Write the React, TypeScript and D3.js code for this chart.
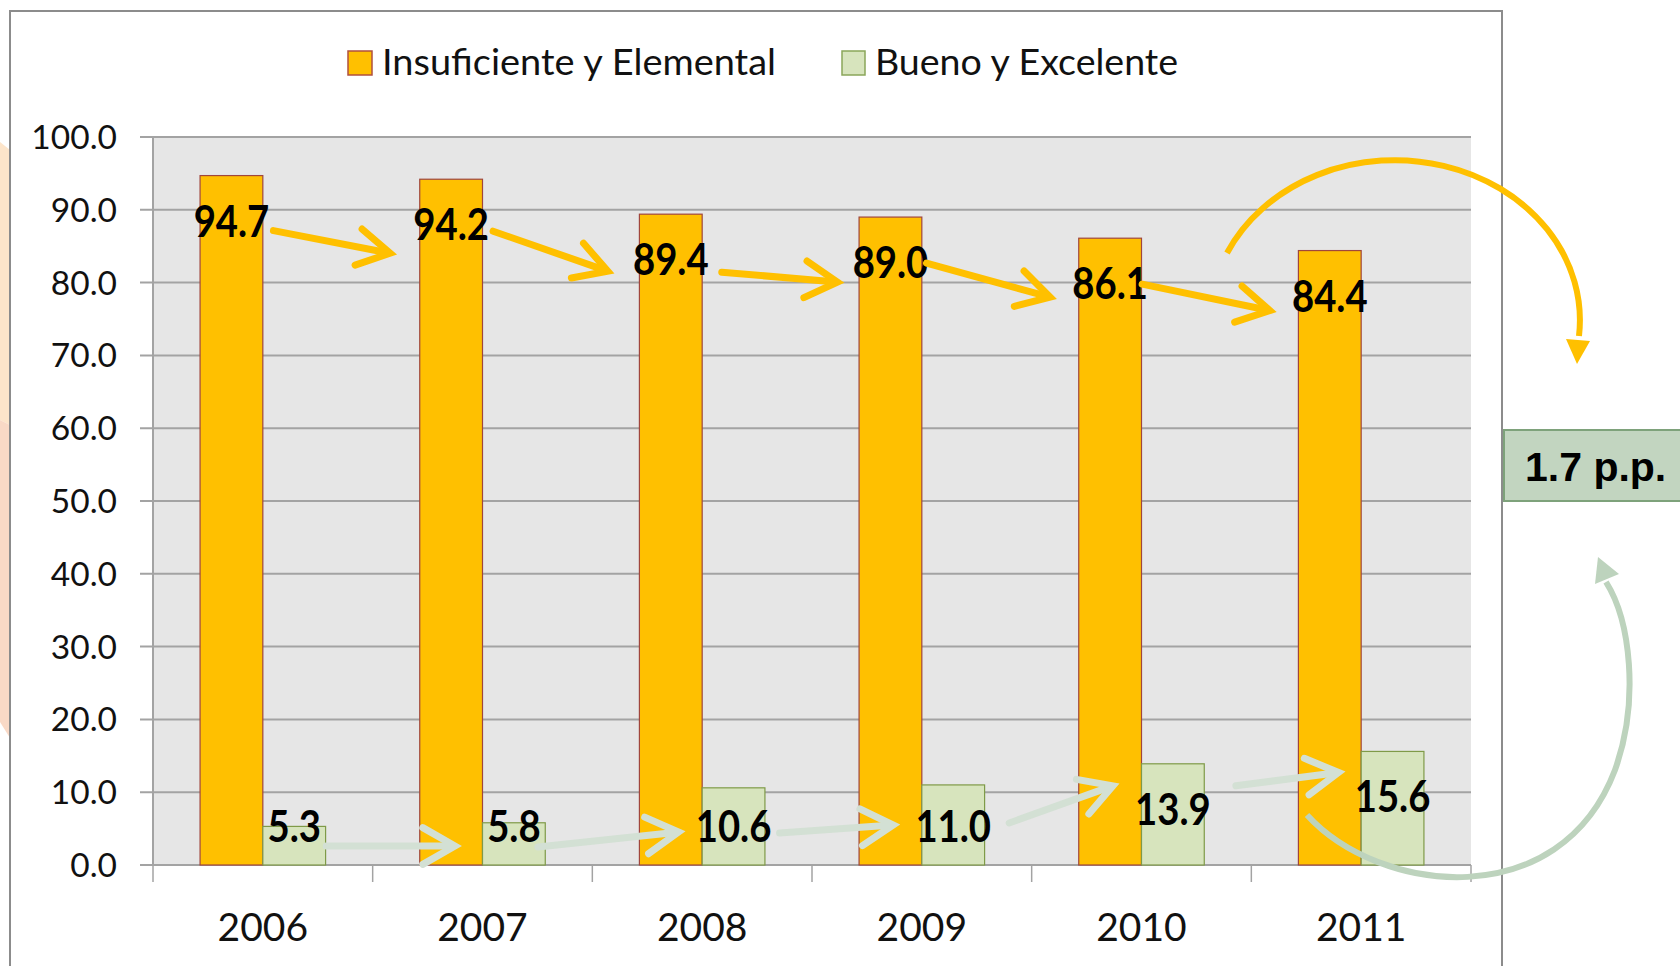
import * as d3 from 'd3'

const years = ['2006', '2007', '2008', '2009', '2010', '2011']
const insuficiente = [94.7, 94.2, 89.4, 89.0, 86.1, 84.4]
const bueno = [5.3, 5.8, 10.6, 11.0, 13.9, 15.6]
const seriesNames = ['Insuficiente y Elemental', 'Bueno y Excelente']
const yTicks = [0, 10, 20, 30, 40, 50, 60, 70, 80, 90, 100]
const diffLabel = '1.7 p.p.'

// hand placed arrows between labels: [dxStart, dyStart, dxTip, dyTip]
const orangeArrowOffsets = [[42, 10, -61, 29], [42, 7, -63, 12], [51, 13, -53, 20], [36, 1, -60, 14], [32, 1, -60, 15]]
const greenArrowOffsets = [[32, 20, -59, 20], [24, 21, -55, 6], [46, 7, -60, -1], [56, -3, -60, -23], [63, -23, -54, -24]]

const W = 1680
const H = 966
const margin = { top: 137, right: 209, bottom: 101, left: 153 }

const ORANGE = '#FFC000'
const GREEN = '#D7E4BD'
const ARROW_GREEN = '#D3E0D4'
const ARC_GREEN = '#BDD3BD'
const FONT = 'Lato, "Open Sans", sans-serif'

function Arrow({ x1, y1, x2, y2, color }: { x1: number; y1: number; x2: number; y2: number; color: string }) {
  const a = Math.atan2(y2 - y1, x2 - x1)
  const L = 37
  const s = 0.52
  const p1 = [x2 - L * Math.cos(a - s), y2 - L * Math.sin(a - s)]
  const p2 = [x2 - L * Math.cos(a + s), y2 - L * Math.sin(a + s)]
  return (
    <g stroke={color} strokeWidth={7} strokeLinecap="round" fill="none">
      <line x1={x1} y1={y1} x2={x2 - 4 * Math.cos(a)} y2={y2 - 4 * Math.sin(a)} />
      <polyline points={`${p1[0]},${p1[1]} ${x2},${y2} ${p2[0]},${p2[1]}`} strokeLinejoin="miter" strokeLinecap="round" />
    </g>
  )
}

export default function App() {
  const plotRight = W - margin.right
  const plotBottom = H - margin.bottom

  const x0 = d3.scaleBand<string>().domain(years).range([margin.left, plotRight])
  const x1 = d3.scaleBand<string>().domain(['a', 'b']).range([0, x0.bandwidth()]).paddingOuter(0.75)
  const y = d3.scaleLinear().domain([0, 100]).range([plotBottom, margin.top])
  const bw = x1.bandwidth()

  const labelY = (v: number) => Math.min(y(v) + 45, y(0) - 39)
  const orangeLabels = insuficiente.map((v, i) => ({ x: x0(years[i])! + x1('a')! + bw / 2, y: labelY(v) }))
  const greenLabels = bueno.map((v, i) => ({ x: x0(years[i])! + x1('b')! + bw / 2, y: labelY(v) }))

  const boundaries = [...years.map(d => x0(d)!), plotRight]

  return (
    <svg width={W} height={H} style={{ position: 'absolute', left: 0, top: 0, background: '#fff' }} fontFamily={FONT}>
      {/* peach slide background peeking at the left */}
      <polygon points="0,142 10,150 10,425 0,420" fill="#FDE5CA" />
      <polygon points="0,420 10,425 10,738 0,722" fill="#F9D9C6" />

      {/* chart frame */}
      <rect x={10} y={11} width={1492} height={H + 20} fill="#fff" stroke="#8C8C8C" strokeWidth={2} />

      {/* plot area */}
      <rect x={margin.left} y={margin.top} width={plotRight - margin.left} height={plotBottom - margin.top} fill="#E6E6E6" />
      {yTicks.map(t => (
        <g key={t}>
          <line x1={140} x2={plotRight} y1={y(t)} y2={y(t)} stroke="#A3A3A3" strokeWidth={2} />
          <text x={117} y={y(t) + 12} textAnchor="end" fontSize={33.5} fill="#111">{t.toFixed(1)}</text>
        </g>
      ))}
      <line x1={margin.left} x2={margin.left} y1={margin.top} y2={plotBottom} stroke="#A3A3A3" strokeWidth={2} />
      {boundaries.map((bx, i) => (
        <line key={i} x1={bx} x2={bx} y1={plotBottom} y2={plotBottom + 17} stroke="#A3A3A3" strokeWidth={1.5} />
      ))}

      {/* bars */}
      {years.map((yr, i) => (
        <g key={yr}>
          <rect x={x0(yr)! + x1('a')!} y={y(insuficiente[i])} width={bw} height={y(0) - y(insuficiente[i])}
            fill={ORANGE} stroke="#A0463C" strokeWidth={1.2} />
          <rect x={x0(yr)! + x1('b')!} y={y(bueno[i])} width={bw} height={y(0) - y(bueno[i])}
            fill={GREEN} stroke="#7F9A48" strokeWidth={1.2} />
        </g>
      ))}

      {/* x labels */}
      {years.map(yr => (
        <text key={yr} x={x0(yr)! + x0.bandwidth() / 2} y={941} textAnchor="middle" fontSize={39} fill="#111">{yr}</text>
      ))}

      {/* data labels */}
      {insuficiente.map((v, i) => (
        <text key={'o' + i} transform={`translate(${orangeLabels[i].x},${orangeLabels[i].y + 16}) scale(0.87,1)`}
          textAnchor="middle" fontSize={44} fontWeight={700} fill="#000">{v.toFixed(1)}</text>
      ))}
      {bueno.map((v, i) => (
        <text key={'g' + i} transform={`translate(${greenLabels[i].x},${greenLabels[i].y + 16}) scale(0.87,1)`}
          textAnchor="middle" fontSize={44} fontWeight={700} fill="#000">{v.toFixed(1)}</text>
      ))}

      {/* arrows between labels */}
      {orangeArrowOffsets.map((o, i) => (
        <Arrow key={'oa' + i} color={ORANGE}
          x1={orangeLabels[i].x + o[0]} y1={orangeLabels[i].y + o[1]}
          x2={orangeLabels[i + 1].x + o[2]} y2={orangeLabels[i + 1].y + o[3]} />
      ))}
      {greenArrowOffsets.map((o, i) => (
        <Arrow key={'ga' + i} color={ARROW_GREEN}
          x1={greenLabels[i].x + o[0]} y1={greenLabels[i].y + o[1]}
          x2={greenLabels[i + 1].x + o[2]} y2={greenLabels[i + 1].y + o[3]} />
      ))}

      {/* curved arrows to the difference box */}
      <path d="M1227,253 A185,160 0 0,1 1579,336" fill="none" stroke={ORANGE} strokeWidth={6} />
      <polygon points="1566,339 1590,341 1577,364" fill={ORANGE} />
      <path d="M1307,815 C1380,895 1560,915 1615,770 C1640,700 1630,620 1606,582" fill="none" stroke={ARC_GREEN} strokeWidth={6} />
      <polygon points="1598,557 1595,584 1619,574" fill={ARC_GREEN} />

      {/* difference box */}
      <rect x={1504} y={430} width={200} height={71} fill="#C2D5C0" stroke="#7EA27B" strokeWidth={2} />
      <text x={1525} y={481} fontFamily='"Liberation Sans", Arial, sans-serif' fontSize={41} fontWeight={700} fill="#000">{diffLabel}</text>

      {/* legend */}
      <rect x={348} y={51} width={24} height={24} fill={ORANGE} stroke="#B0503E" strokeWidth={1.5} />
      <text x={382} y={75} fontSize={36} textLength={394} lengthAdjust="spacingAndGlyphs" fill="#111">{seriesNames[0]}</text>
      <rect x={842} y={51} width={23} height={24} fill={GREEN} stroke="#8AA65A" strokeWidth={1.5} />
      <text x={875} y={75} fontSize={36} textLength={303} lengthAdjust="spacingAndGlyphs" fill="#111">{seriesNames[1]}</text>
    </svg>
  )
}
